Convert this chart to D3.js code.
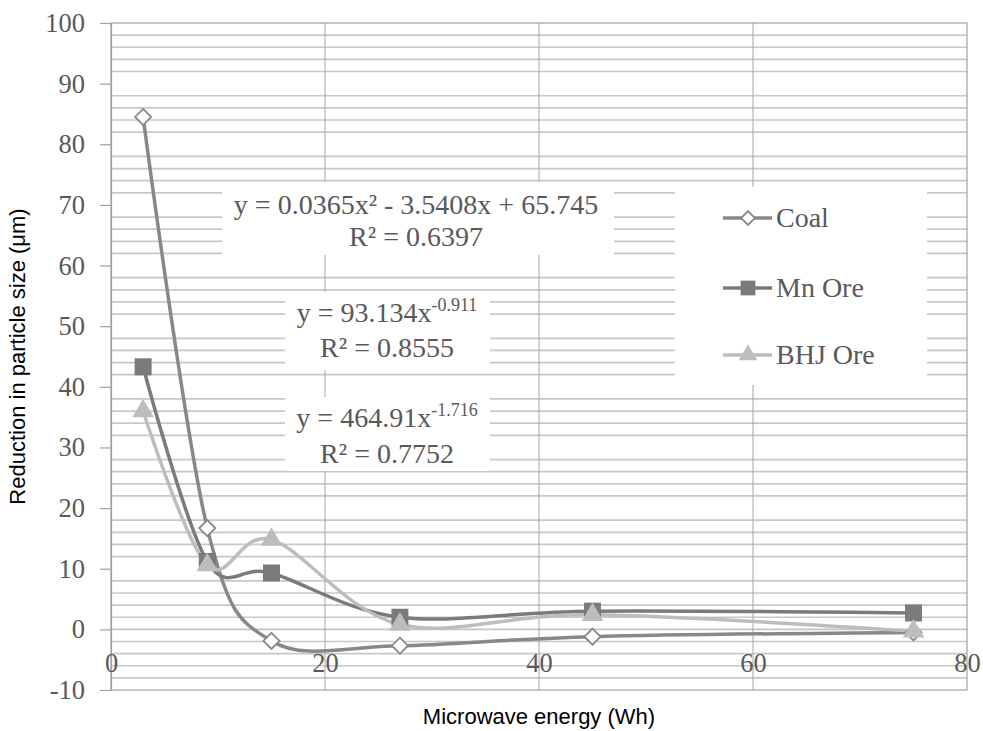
<!DOCTYPE html>
<html>
<head>
<meta charset="utf-8">
<script src="https://cdn.jsdelivr.net/npm/d3@7"></script>
<style>
  body { margin: 0; background: #fff; }
  svg { display: block; }
  .tick-label { font-family: "Liberation Serif", "DejaVu Serif", serif; font-size: 26.5px; fill: #595959; }
  .eq { font-family: "Liberation Serif", "DejaVu Serif", serif; font-size: 28px; fill: #595959; }
  .legend-label { font-family: "Liberation Serif", "DejaVu Serif", serif; font-size: 28px; fill: #595959; }
  .axis-title { font-family: "Liberation Sans", Arial, sans-serif; font-size: 22px; fill: #000; }
</style>
</head>
<body>
<div id="chart"></div>
<script>
// x values shared by all series (Wh)
const energy = [3, 9, 15, 27, 45, 75];
const coal = [84.5, 16.7, -1.9, -2.7, -1.2, -0.5];
const mnOre = [43.3, 11.2, 9.3, 2.0, 3.0, 2.7];
const bhjOre = [36.0, 10.6, 14.8, 0.8, 2.4, -0.3];

const seriesNames = ['Coal', 'Mn Ore', 'BHJ Ore'];
const xTicks = [0, 20, 40, 60, 80];
const yTicks = [-10, 0, 10, 20, 30, 40, 50, 60, 70, 80, 90, 100];

const equations = [
  { line1: ['y = 0.0365x² - 3.5408x + 65.745'], line2: 'R² = 0.6397' },
  { line1: ['y = 93.134x', '-0.911'], line2: 'R² = 0.8555' },
  { line1: ['y = 464.91x', '-1.716'], line2: 'R² = 0.7752' }
];

const width = 983;
const height = 731;
const margin = { top: 23, right: 16, bottom: 41, left: 111 };

const svg = d3.select('#chart').append('svg')
  .attr('width', width)
  .attr('height', height);

const x = d3.scaleLinear().domain([0, 80]).range([margin.left, width - margin.right]);
const y = d3.scaleLinear().domain([-10, 100]).range([height - margin.bottom, margin.top]);

// minor horizontal gridlines every 2, the majors are left out like in the source
const minor = d3.range(-8, 100, 2).filter((v) => v % 10 !== 0);
svg.append('g')
  .selectAll('line')
  .data(minor)
  .join('line')
  .attr('x1', x(0)).attr('x2', x(80))
  .attr('y1', (d) => y(d)).attr('y2', (d) => y(d))
  .attr('stroke', '#c8c8c8')
  .attr('stroke-width', 1.7);

// horizontal axis through zero
svg.append('line')
  .attr('x1', x(0)).attr('x2', x(80))
  .attr('y1', y(0)).attr('y2', y(0))
  .attr('stroke', '#c4c4c4')
  .attr('stroke-width', 1.7);

// vertical major gridlines
svg.append('g')
  .selectAll('line')
  .data(xTicks.filter((d) => d > 0 && d < 80))
  .join('line')
  .attr('x1', (d) => x(d)).attr('x2', (d) => x(d))
  .attr('y1', y(100)).attr('y2', y(-10))
  .attr('stroke', '#a6a6a6')
  .attr('stroke-width', 1);

// plot border
svg.append('rect')
  .attr('x', x(0)).attr('y', y(100))
  .attr('width', x(80) - x(0)).attr('height', y(-10) - y(100))
  .attr('fill', 'none')
  .attr('stroke', '#a0a0a0')
  .attr('stroke-width', 1.2);

// y axis
const yAxis = svg.append('g')
  .attr('transform', `translate(${x(0)},0)`)
  .call(d3.axisLeft(y).tickValues(yTicks).tickFormat((d) => String(d)).tickSize(11).tickPadding(15));
yAxis.select('.domain').attr('stroke', '#a0a0a0').attr('stroke-width', 1.2);
yAxis.selectAll('.tick line').attr('stroke', '#a0a0a0').attr('stroke-width', 1.2);
yAxis.selectAll('.tick text').attr('class', 'tick-label').attr('fill', null);

// x axis labels sit under the zero line
const xAxis = svg.append('g')
  .attr('transform', `translate(0,${y(0)})`)
  .call(d3.axisBottom(x).tickValues(xTicks).tickFormat((d) => String(d)).tickSize(0).tickPadding(24));
xAxis.select('.domain').remove();
xAxis.selectAll('.tick text').attr('class', 'tick-label').attr('fill', null);

// equation boxes
const boxes = [
  { x: 222, y: 182, w: 392, h: 73, cx: 416, b1: 214, b2: 246 },
  { x: 285, y: 292, w: 205, h: 78, cx: 387, b1: 322, b2: 357 },
  { x: 285, y: 397, w: 205, h: 74, cx: 387, b1: 427, b2: 463 }
];
boxes.forEach((b, i) => {
  svg.append('rect')
    .attr('x', b.x).attr('y', b.y).attr('width', b.w).attr('height', b.h)
    .attr('fill', '#fff');
  const eq = equations[i];
  const t1 = svg.append('text').attr('class', 'eq')
    .attr('x', b.cx).attr('y', b.b1).attr('text-anchor', 'middle');
  t1.append('tspan').text(eq.line1[0]);
  if (eq.line1[1]) {
    t1.append('tspan').attr('dy', -11).style('font-size', '18px').text(eq.line1[1]);
  }
  svg.append('text').attr('class', 'eq')
    .attr('x', b.cx).attr('y', b.b2).attr('text-anchor', 'middle')
    .text(eq.line2);
});

// legend background
svg.append('rect')
  .attr('x', 675).attr('y', 187).attr('width', 252).attr('height', 198)
  .attr('fill', '#fff');

const styles = [
  { color: '#888888', fill: '#fff', symbol: d3.symbolDiamond2, size: 165, values: coal },
  { color: '#7b7b7b', fill: '#7b7b7b', symbol: d3.symbolSquare, size: 290, values: mnOre },
  { color: '#bdbdbd', fill: '#bdbdbd', symbol: d3.symbolTriangle, size: 200, values: bhjOre }
];

const line = d3.line()
  .x((d) => x(d[0]))
  .y((d) => y(d[1]))
  .curve(d3.curveCardinal.tension(0));

styles.forEach((s) => {
  const pts = energy.map((e, i) => [e, s.values[i]]);
  svg.append('path')
    .datum(pts)
    .attr('d', line)
    .attr('fill', 'none')
    .attr('stroke', s.color)
    .attr('stroke-width', 3.5)
    .attr('stroke-linejoin', 'round');
});

styles.forEach((s) => {
  const pts = energy.map((e, i) => [e, s.values[i]]);
  svg.append('g')
    .selectAll('path')
    .data(pts)
    .join('path')
    .attr('transform', (d) => `translate(${x(d[0])},${y(d[1])})`)
    .attr('d', d3.symbol().type(s.symbol).size(s.size))
    .attr('fill', s.fill)
    .attr('stroke', s.color)
    .attr('stroke-width', s.fill === '#fff' ? 1.8 : 0);
});

// legend entries
const legendY = [218, 288, 355];
seriesNames.forEach((name, i) => {
  const s = styles[i];
  const g = svg.append('g').attr('transform', `translate(0,${legendY[i]})`);
  g.append('line')
    .attr('x1', 723).attr('x2', 772).attr('y1', 0).attr('y2', 0)
    .attr('stroke', s.color).attr('stroke-width', 3.5);
  g.append('path')
    .attr('transform', 'translate(748,0)')
    .attr('d', d3.symbol().type(s.symbol).size(s.size * 0.75))
    .attr('fill', s.fill)
    .attr('stroke', s.color)
    .attr('stroke-width', s.fill === '#fff' ? 1.8 : 0);
  g.append('text')
    .attr('class', 'legend-label')
    .attr('x', 776).attr('y', 9)
    .text(name);
});

// axis titles
svg.append('text')
  .attr('class', 'axis-title')
  .attr('transform', `translate(25,${(y(100) + y(-10)) / 2}) rotate(-90)`)
  .attr('text-anchor', 'middle')
  .text('Reduction in particle size (μm)');

svg.append('text')
  .attr('class', 'axis-title')
  .attr('x', (x(0) + x(80)) / 2)
  .attr('y', 724)
  .attr('text-anchor', 'middle')
  .text('Microwave energy (Wh)');
</script>
</body>
</html>
